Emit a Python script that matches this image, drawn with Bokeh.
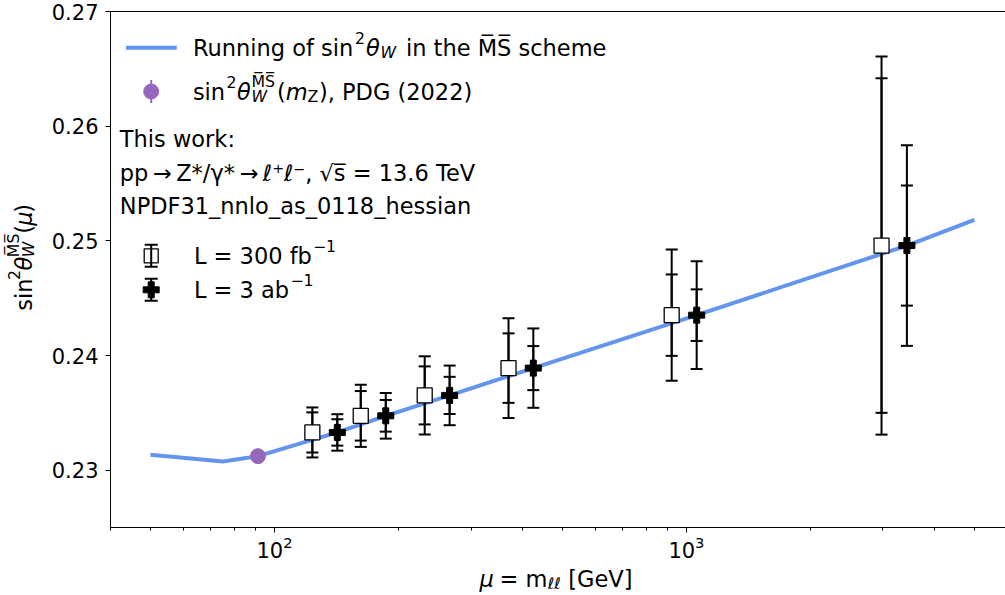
import math
from bokeh.plotting import figure
from bokeh.layouts import row, column
from bokeh.models import (ColumnDataSource, Whisker, TeeHead, Label, FixedTicker,
                          PrintfTickFormatter, Range1d, LinearScale)
from bokeh.embed import file_html
from bokeh.resources import INLINE

# ---------------- data ----------------
mu_run = [50, 75, 83, 91.19, 142.1, 186.3, 266.2, 425, 1059, 3429, 5000]
sw_run = [0.23135, 0.23075, 0.23100, 0.23122, 0.23329, 0.23474, 0.23652,
          0.23890, 0.24352, 0.24959, 0.25182]

mu_pdg = [91.1876]
sw_pdg = [0.23122]

mu_300 = [123.6, 162.0, 231.6, 370.0, 921.0, 2976.0]
mu_3000 = [142.1, 186.3, 266.2, 425.0, 1059.0, 3429.0]
sw_bins = [0.23329, 0.23474, 0.23652, 0.23890, 0.24352, 0.24959]
err_tot_300 = [0.00218, 0.00271, 0.00341, 0.00435, 0.00572, 0.01649]
err_stat_300 = [0.00175, 0.00216, 0.00253, 0.00303, 0.00355, 0.01459]
err_tot_3000 = [0.00159, 0.00199, 0.00260, 0.00346, 0.00470, 0.00875]
err_stat_3000 = [0.00115, 0.00138, 0.00162, 0.00192, 0.00225, 0.00524]

y_ticks = [0.23, 0.24, 0.25, 0.26, 0.27]
x_ticks = [100, 1000]
x_minor_ticks = [40, 50, 60, 70, 80, 90, 200, 300, 400, 500, 600, 700, 800, 900,
                 2000, 3000, 4000, 5000]

# ---------------- style / layout ----------------
BLUE = "#6495ED"
PURPLE = "#9467bd"
FONT = "DejaVu Sans"
F = 22.5          # main text size (px)
S = 15.75         # script size (px)
FW, FH = 895, 516           # plotting frame
LW = 48                     # strip holding the y-axis title
B_LEFT, B_RIGHT, B_TOP, B_BOTTOM = 60, 1, 11, 37
MAIN_H = FH + B_TOP + B_BOTTOM
MAIN_W = FW + B_LEFT + B_RIGHT
XL_H = 28                   # strip holding the x-axis title

p = figure(x_axis_type="log", x_range=(40, 5950), y_range=(0.225, 0.27),
           frame_width=FW, frame_height=FH,
           min_border_left=B_LEFT, min_border_right=B_RIGHT,
           min_border_top=B_TOP, min_border_bottom=B_BOTTOM,
           output_backend="svg", toolbar_location=None,
           background_fill_color="white", border_fill_color="white")
p.extra_x_ranges = {"px": Range1d(0, FW)}
p.extra_y_ranges = {"py": Range1d(0, FH)}
p.extra_x_scales = {"px": LinearScale()}
p.extra_y_scales = {"py": LinearScale()}

p.grid.visible = False
p.outline_line_color = "black"
p.outline_line_width = 1
p.outline_line_alpha = 1

p.xaxis.ticker = FixedTicker(ticks=x_ticks, minor_ticks=x_minor_ticks)
p.yaxis.ticker = FixedTicker(ticks=y_ticks, minor_ticks=[])
p.yaxis.formatter = PrintfTickFormatter(format="%.2f")
for ax in (p.xaxis[0], p.yaxis[0]):
    ax.axis_line_color = "black"
    ax.axis_line_width = 1
    ax.major_tick_line_color = "black"
    ax.minor_tick_line_color = "black"
    ax.major_tick_out = 5
    ax.major_tick_in = 0
    ax.minor_tick_out = 3
    ax.minor_tick_in = 0
    ax.major_label_text_font = FONT
    ax.major_label_text_font_size = "21px"
    ax.major_label_text_color = "black"
p.xaxis.major_label_standoff = 3
p.yaxis.major_label_standoff = 7

# ---------------- curve, error bars, points ----------------
p.line(mu_run, sw_run, line_width=4, color=BLUE, level="underlay")


def add_errbars(xs, ys, errs):
    src = ColumnDataSource(dict(x=xs,
                                lo=[y - e for y, e in zip(ys, errs)],
                                hi=[y + e for y, e in zip(ys, errs)]))
    w = Whisker(source=src, base="x", lower="lo", upper="hi", dimension="height",
                line_color="black", line_width=2, level="underlay",
                upper_head=TeeHead(size=12, line_width=2, line_color="black"),
                lower_head=TeeHead(size=12, line_width=2, line_color="black"))
    p.add_layout(w)


add_errbars(mu_300, sw_bins, err_tot_300)
add_errbars(mu_300, sw_bins, err_stat_300)
add_errbars(mu_3000, sw_bins, err_tot_3000)
add_errbars(mu_3000, sw_bins, err_stat_3000)

p.scatter(mu_300, sw_bins, marker="square", size=15, fill_color="white",
          line_color="black", line_width=1.3)
p.scatter(mu_3000, sw_bins, marker="plus", size=16, fill_color="black",
          line_color="black", line_width=1)
p.scatter(mu_pdg, sw_pdg, marker="circle", size=15, fill_color=PURPLE,
          line_color=PURPLE)


# ---------------- text helper (pixel coordinates inside a frame) ----------------
def txt(fig, x, y, s, size=F, style="normal", angle=0.0, rn=("px", "py")):
    kw = {}
    if rn is not None:
        kw = dict(x_range_name=rn[0], y_range_name=rn[1])
    fig.add_layout(Label(x=x, y=y, text=s, text_font=FONT, text_font_size=f"{size}px",
                         text_font_style=style, text_color="black",
                         text_align="left", text_baseline="alphabetic", angle=angle, **kw))


SUP = 10          # superscript raise
SUB = 4.5         # subscript drop
MSBAR = "M\u0305S\u0305"

# legend layout (offsets from frame top-left)
ICON_X = 40.7
TEXT_X = 82.4
ROW_RUN, ROW_PDG = 36.3, 80.0
ROW_WORK, ROW_PP, ROW_PDF = 127.3, 161.0, 194.3
ROW_L300, ROW_L3 = 244.3, 278.3

# legend icon: running line
p.line([15.4, 66.3], [FH - ROW_RUN] * 2, x_range_name="px", y_range_name="py",
       line_width=4, color=BLUE)
# legend icon: PDG point
p.segment(x0=[ICON_X], y0=[FH - ROW_PDG - 11.5], x1=[ICON_X], y1=[FH - ROW_PDG + 11.5],
          x_range_name="px", y_range_name="py", line_color=PURPLE, line_width=2)
p.scatter([ICON_X], [FH - ROW_PDG], x_range_name="px", y_range_name="py",
          marker="circle", size=15, fill_color=PURPLE, line_color=PURPLE)


def legend_bar(yc):
    src = ColumnDataSource(dict(x=[ICON_X], lo=[yc - 11], hi=[yc + 11]))
    p.add_layout(Whisker(source=src, base="x", lower="lo", upper="hi",
                         dimension="height", x_range_name="px", y_range_name="py",
                         line_color="black", line_width=2, level="underlay",
                         upper_head=TeeHead(size=13, line_width=2, line_color="black"),
                         lower_head=TeeHead(size=13, line_width=2, line_color="black")))


legend_bar(FH - ROW_L300)
p.scatter([ICON_X], [FH - ROW_L300], x_range_name="px", y_range_name="py",
          marker="square", size=14, fill_alpha=0, line_color="black", line_width=1.3)
legend_bar(FH - ROW_L3)
p.scatter([ICON_X], [FH - ROW_L3], x_range_name="px", y_range_name="py",
          marker="plus", size=16, fill_color="black", line_color="black")

# row 1: Running of sin^2 theta_W in the MS-bar scheme
yb = FH - ROW_RUN
txt(p, TEXT_X, yb, "Running of sin")
txt(p, TEXT_X + 162, yb + SUP, "2", S)
txt(p, TEXT_X + 173, yb, "θ", F, "italic")
txt(p, TEXT_X + 187.5, yb - SUB, "W", S, "italic")
txt(p, TEXT_X + 213, yb, "in the " + MSBAR + " scheme")

# row 2: sin^2 theta_W^MS(m_Z), PDG (2022)
yb = FH - ROW_PDG
txt(p, TEXT_X, yb, "sin")
txt(p, TEXT_X + 33.5, yb + SUP, "2", S)
txt(p, TEXT_X + 44, yb, "θ", F, "italic")
txt(p, TEXT_X + 58.5, yb - SUB, "W", S, "italic")
txt(p, TEXT_X + 58.5, yb + SUP, MSBAR, S)
txt(p, TEXT_X + 84, yb, "(")
txt(p, TEXT_X + 92.8, yb, "m", F, "italic")
txt(p, TEXT_X + 114.7, yb - SUB, "Z", S)
txt(p, TEXT_X + 126, yb, "), PDG (2022)")

# info lines
txt(p, 9.3, FH - ROW_WORK, "This work:")
txt(p, 9.3, FH - ROW_PP, "pp\u2009→\u2009Z*/γ*\u2009→\u2009ℓ⁺ℓ⁻, √s\u0305 = 13.6 TeV")
txt(p, 9.3, FH - ROW_PDF, "NPDF31_nnlo_as_0118_hessian")

# luminosity legend texts
txt(p, TEXT_X + 1, FH - ROW_L300, "L = 300 fb")
txt(p, TEXT_X + 120, FH - ROW_L300 + SUP, "−1", S)
txt(p, TEXT_X + 1, FH - ROW_L3, "L = 3 ab")
txt(p, TEXT_X + 97.5, FH - ROW_L3 + SUP, "−1", S)


# ---------------- side strips holding the axis titles ----------------
def strip(w, h):
    f = figure(width=w, height=h, x_range=Range1d(0, w), y_range=Range1d(0, h),
               min_border=0, x_axis_location=None, y_axis_location=None,
               output_backend="svg", toolbar_location=None,
               background_fill_color="white", border_fill_color="white")
    f.outline_line_color = None
    f.grid.visible = False
    return f


ylab = strip(LW, MAIN_H)
BX = 23.0
Y0 = MAIN_H - 327.0
R = math.pi / 2
txt(ylab, BX, Y0, "sin", F, "normal", R, None)
txt(ylab, BX - SUP, Y0 + 33.5, "2", S, "normal", R, None)
txt(ylab, BX, Y0 + 44, "θ", F, "italic", R, None)
txt(ylab, BX + SUB, Y0 + 58.5, "W", S, "italic", R, None)
txt(ylab, BX - SUP, Y0 + 58.5, MSBAR, S, "normal", R, None)
txt(ylab, BX, Y0 + 84, "(", F, "normal", R, None)
txt(ylab, BX, Y0 + 92.8, "μ", F, "italic", R, None)
txt(ylab, BX, Y0 + 107.1, ")", F, "normal", R, None)

xlab = strip(LW + MAIN_W, XL_H)
XS = LW + B_LEFT + FW / 2 - 76.4
XB = 14.0
txt(xlab, XS, XB, "μ", F, "italic", 0.0, None)
txt(xlab, XS + 20, XB, "= m", F, "normal", 0.0, None)
txt(xlab, XS + 68.5, XB - SUB, "ℓℓ", S, "italic", 0.0, None)
txt(xlab, XS + 88.6, XB, "[GeV]", F, "normal", 0.0, None)

layout = column(row(ylab, p, spacing=0), xlab, spacing=0)

open("out.html", "w").write(file_html(layout, INLINE))
